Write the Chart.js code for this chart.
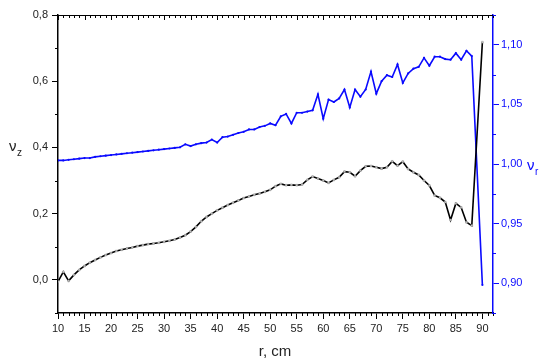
<!DOCTYPE html>
<html>
<head>
<meta charset="utf-8">
<script src="https://cdn.jsdelivr.net/npm/chart.js@4/dist/chart.umd.min.js"></script>
<style>
  html, body { margin: 0; padding: 0; background: #fff; }
  #wrap { width: 543px; height: 361px; }
</style>
</head>
<body>
<div id="wrap"><canvas id="chart"></canvas></div>
<script>
const radius = [10, 11, 12, 13, 14, 15, 16, 17, 18, 19, 20, 21, 22, 23, 24, 25, 26, 27, 28, 29,
  30, 31, 32, 33, 34, 35, 36, 37, 38, 39, 40, 41, 42, 43, 44, 45, 46, 47, 48, 49,
  50, 51, 52, 53, 54, 55, 56, 57, 58, 59, 60, 61, 62, 63, 64, 65, 66, 67, 68, 69,
  70, 71, 72, 73, 74, 75, 76, 77, 78, 79, 80, 81, 82, 83, 84, 85, 86, 87, 88, 89, 90];

// nu_z, left axis
const nuZ = [-0.005, 0.024, -0.003, 0.015, 0.030, 0.042, 0.052, 0.060, 0.068, 0.075,
  0.081, 0.087, 0.091, 0.095, 0.098, 0.102, 0.105, 0.108, 0.110, 0.112,
  0.115, 0.118, 0.122, 0.128, 0.135, 0.146, 0.160, 0.177, 0.190, 0.200,
  0.210, 0.218, 0.226, 0.233, 0.240, 0.247, 0.252, 0.257, 0.261, 0.266,
  0.272, 0.283, 0.290, 0.286, 0.287, 0.286, 0.288, 0.302, 0.312, 0.306,
  0.300, 0.293, 0.302, 0.310, 0.327, 0.325, 0.313, 0.330, 0.343, 0.344,
  0.340, 0.336, 0.340, 0.358, 0.345, 0.357, 0.335, 0.325, 0.317, 0.300,
  0.285, 0.255, 0.248, 0.235, 0.181, 0.231, 0.219, 0.174, 0.164, null, 0.718];

// nu_r, right axis
const nuR = [1.003, 1.003, 1.0035, 1.004, 1.0045, 1.005, 1.005, 1.006, 1.0065, 1.007,
  1.0075, 1.008, 1.0085, 1.009, 1.0095, 1.010, 1.0105, 1.011, 1.0115, 1.012,
  1.0125, 1.013, 1.0135, 1.014, 1.0165, 1.015, 1.0165, 1.0175, 1.018, 1.0205,
  1.018, 1.0225, 1.023, 1.0245, 1.026, 1.027, 1.029, 1.029, 1.031, 1.032,
  1.034, 1.0325, 1.040, 1.042, 1.034, 1.043, 1.043, 1.044, 1.045, 1.0585,
  1.038, 1.054, 1.052, 1.055, 1.0625, 1.0475, 1.0625, 1.0565, 1.0625, 1.0775,
  1.059, 1.0695, 1.0745, 1.073, 1.0835, 1.068, 1.076, 1.080, 1.0815, 1.089,
  1.0825, 1.090, 1.090, 1.088, 1.0875, 1.093, 1.0875, 1.095, 1.0905, null, 0.8985];

const xTicks = [10, 15, 20, 25, 30, 35, 40, 45, 50, 55, 60, 65, 70, 75, 80, 85, 90];
const xMinor = [11, 12, 13, 14, 16, 17, 18, 19, 21, 22, 23, 24, 26, 27, 28, 29, 31, 32, 33, 34,
  36, 37, 38, 39, 41, 42, 43, 44, 46, 47, 48, 49, 51, 52, 53, 54, 56, 57, 58, 59,
  61, 62, 63, 64, 66, 67, 68, 69, 71, 72, 73, 74, 76, 77, 78, 79, 81, 82, 83, 84,
  86, 87, 88, 89, 91, 92];
const leftTicks = [0, 0.2, 0.4, 0.6, 0.8];
const leftMinor = [-0.1, 0.1, 0.3, 0.5, 0.7];
const rightTicks = [0.90, 0.95, 1.00, 1.05, 1.10];
const rightMinor = [0.875, 0.925, 0.975, 1.025, 1.075, 1.125];

const BLUE = "rgb(10, 10, 255)";
const FONT = "'Liberation Sans', Arial, sans-serif";

function comma(v, digits) {
  return v.toFixed(digits).replace(".", ",");
}

const frame = {
  id: "frame",
  afterDraw(chart) {
    const { ctx, chartArea: a, scales } = chart;
    ctx.save();
    ctx.lineWidth = 1;
    ctx.strokeStyle = "#000";
    ctx.beginPath();
    // top border
    ctx.moveTo(a.left, a.top + 0.5);
    ctx.lineTo(a.right, a.top + 0.5);
    xTicks.forEach((v) => {
      const px = Math.round(scales.x.getPixelForValue(v)) + 0.5;
      ctx.moveTo(px, a.top);
      ctx.lineTo(px, a.top + 5);
    });
    xMinor.forEach((v) => {
      const px = Math.round(scales.x.getPixelForValue(v)) + 0.5;
      ctx.moveTo(px, a.bottom);
      ctx.lineTo(px, a.bottom + 3);
      ctx.moveTo(px, a.top);
      ctx.lineTo(px, a.top + 3);
    });
    leftMinor.forEach((v) => {
      const py = Math.round(scales.y.getPixelForValue(v)) + 0.5;
      ctx.moveTo(a.left, py);
      ctx.lineTo(a.left - 3, py);
    });
    ctx.stroke();

    ctx.strokeStyle = BLUE;
    ctx.beginPath();
    rightMinor.forEach((v) => {
      const py = Math.round(scales.y2.getPixelForValue(v)) + 0.5;
      ctx.moveTo(a.right, py);
      ctx.lineTo(a.right + 3, py);
    });
    ctx.stroke();

    // axis titles
    ctx.textBaseline = "alphabetic";
    ctx.fillStyle = "#222";
    ctx.font = "15px " + FONT;
    ctx.fillText("\u03bd", 9, 151);
    ctx.font = "10px " + FONT;
    ctx.fillText("z", 17, 156);

    ctx.fillStyle = BLUE;
    ctx.font = "15px " + FONT;
    ctx.fillText("\u03bd", 527, 170);
    ctx.font = "10px " + FONT;
    ctx.fillText("r", 535, 175);

    ctx.fillStyle = "#222";
    ctx.font = "15px " + FONT;
    ctx.textAlign = "center";
    ctx.fillText("r, cm", 275, 356);
    ctx.restore();
  },
};

window.addEventListener("load", setup);

function setup() {
  const ctx = document.getElementById("chart").getContext("2d");
  new Chart(ctx, {
    type: "line",
    data: {
      datasets: [
        {
          label: "nu_z",
          data: radius.map((r, i) => ({ x: r, y: nuZ[i] })),
          yAxisID: "y",
          borderColor: "#000",
          borderWidth: 1.6,
          pointStyle: "rect",
          pointRadius: 1.3,
          pointBackgroundColor: "#c8c8c8",
          pointBorderColor: "#9a9a9a",
          pointBorderWidth: 0.5,
          spanGaps: true,
          tension: 0,
        },
        {
          label: "nu_r",
          data: radius.map((r, i) => ({ x: r, y: nuR[i] })),
          yAxisID: "y2",
          borderColor: BLUE,
          borderWidth: 1.6,
          pointRadius: 1.1,
          pointBackgroundColor: BLUE,
          pointBorderWidth: 0,
          spanGaps: true,
          tension: 0,
        },
      ],
    },
    options: {
      responsive: true,
      maintainAspectRatio: false,
      animation: false,
      layout: { padding: { top: 15, left: 0, right: 0, bottom: 0 } },
      plugins: { legend: { display: false }, tooltip: { enabled: false } },
      scales: {
        x: {
          type: "linear",
          min: 10,
          max: 92,
          afterBuildTicks: (s) => { s.ticks = xTicks.map((v) => ({ value: v })); },
          afterFit: (s) => { s.height = 48; },
          border: { display: true, color: "#000", width: 1.5 },
          grid: { drawOnChartArea: false, drawTicks: true, tickLength: 6, tickColor: "#000" },
          ticks: {
            color: "#222",
            padding: 3,
            maxRotation: 0,
            font: { family: FONT, size: 11 },
            callback: (v) => String(v),
          },
        },
        y: {
          position: "left",
          min: -0.1,
          max: 0.8,
          afterBuildTicks: (s) => { s.ticks = leftTicks.map((v) => ({ value: v })); },
          afterFit: (s) => { s.width = 58; },
          border: { display: true, color: "#000", width: 1.5 },
          grid: { drawOnChartArea: false, drawTicks: true, tickLength: 6, tickColor: "#000" },
          ticks: {
            color: "#222",
            padding: 4,
            font: { family: FONT, size: 11 },
            callback: (v) => comma(v, 1),
          },
        },
        y2: {
          position: "right",
          min: 0.875,
          max: 1.125,
          afterBuildTicks: (s) => { s.ticks = rightTicks.map((v) => ({ value: v })); },
          afterFit: (s) => { s.width = 50; },
          border: { display: true, color: BLUE, width: 1.5 },
          grid: { drawOnChartArea: false, drawTicks: true, tickLength: 6, tickColor: BLUE },
          ticks: {
            color: BLUE,
            padding: 2,
            font: { family: FONT, size: 11 },
            callback: (v) => comma(v, 2),
          },
        },
      },
    },
    plugins: [frame],
  });
}
</script>
</body>
</html>
